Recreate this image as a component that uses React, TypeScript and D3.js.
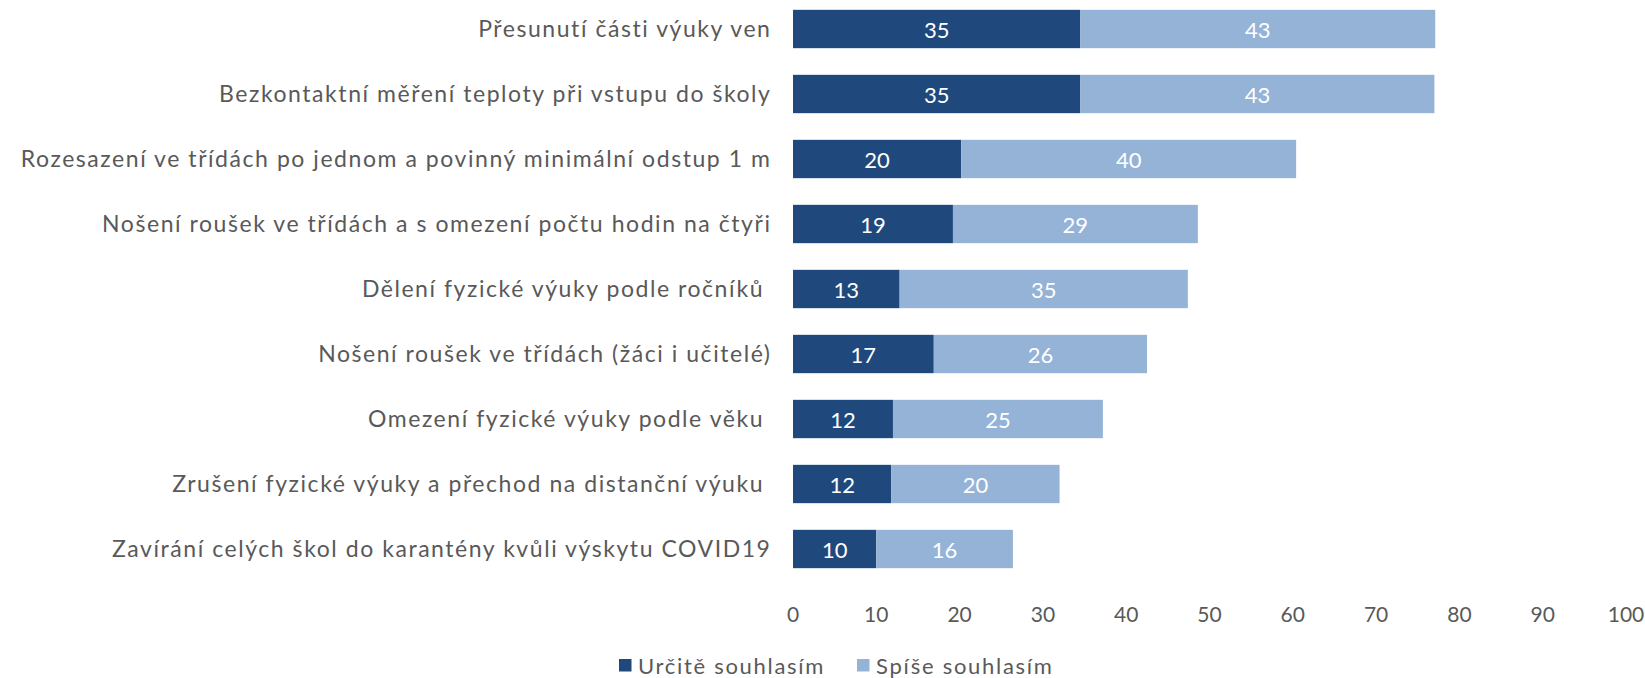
import * as d3 from "d3";

const categories = [
  "Přesunutí části výuky ven",
  "Bezkontaktní měření teploty při vstupu do školy",
  "Rozesazení ve třídách po jednom a povinný minimální odstup 1 m",
  "Nošení roušek ve třídách a s omezení počtu hodin na čtyři",
  "Dělení fyzické výuky podle ročníků ",
  "Nošení roušek ve třídách (žáci i učitelé)",
  "Omezení fyzické výuky podle věku ",
  "Zrušení fyzické výuky a přechod na distanční výuku ",
  "Zavírání celých škol do karantény kvůli výskytu COVID19",
];

const definitely = [34.5, 34.5, 20.2, 19.2, 12.8, 16.9, 12.0, 11.8, 10.0];
const rather = [42.6, 42.5, 40.2, 29.4, 34.6, 25.6, 25.2, 20.2, 16.4];

const xTicks = [0, 10, 20, 30, 40, 50, 60, 70, 80, 90, 100];
const seriesNames = ["Určitě souhlasím", "Spíše souhlasím"];

const W = 1645;
const H = 678;
const DARK = "#1f497d";
const LIGHT = "#95b3d7";
const GREY = "#595959";
const FONT = "Lato, 'Open Sans', sans-serif";

export default function App() {
  const x = d3.scaleLinear().domain([0, 100]).range([793, 1626]);
  const y = d3
    .scaleBand()
    .domain(categories)
    .range([-3.5, 581.5])
    .paddingInner(0.41)
    .paddingOuter(0.205);

  const rows = categories.map((c, i) => ({
    c,
    a: definitely[i],
    b: rather[i],
  }));

  const legendX = [619, 857];

  return (
    <svg
      width={W}
      height={H}
      style={{ position: "absolute", left: 0, top: 0, fontFamily: FONT }}
    >
      {rows.map((r) => {
        const y0 = y(r.c)!;
        const cy = y0 + y.bandwidth() / 2;
        return (
          <g key={r.c}>
            <text
              x={x(0) - 21.5}
              y={cy + 8}
              textAnchor="end"
              fontSize={23}
              letterSpacing={1.55}
              fill={GREY}
              style={{ whiteSpace: "pre" }}
            >
              {r.c}
            </text>
            <rect
              x={x(0)}
              y={y0}
              width={x(r.a) - x(0)}
              height={y.bandwidth()}
              fill={DARK}
            />
            <rect
              x={x(r.a)}
              y={y0}
              width={x(r.a + r.b) - x(r.a)}
              height={y.bandwidth()}
              fill={LIGHT}
            />
            <text
              x={(x(0) + x(r.a)) / 2}
              y={cy + 8.5}
              textAnchor="middle"
              fontSize={22}
              fill="#fff"
            >
              {Math.round(r.a)}
            </text>
            <text
              x={(x(r.a) + x(r.a + r.b)) / 2}
              y={cy + 8.5}
              textAnchor="middle"
              fontSize={22}
              fill="#fff"
            >
              {Math.round(r.b)}
            </text>
          </g>
        );
      })}

      {xTicks.map((t) => (
        <text
          key={t}
          x={x(t)}
          y={622}
          textAnchor="middle"
          fontSize={21}
          fill={GREY}
        >
          {t}
        </text>
      ))}

      {seriesNames.map((s, i) => (
        <g key={s}>
          <rect
            x={legendX[i]}
            y={659}
            width={12.5}
            height={12.5}
            fill={i === 0 ? DARK : LIGHT}
          />
          <text
            x={legendX[i] + 19}
            y={673.5}
            fontSize={22}
            letterSpacing={1.7}
            fill={GREY}
          >
            {s}
          </text>
        </g>
      ))}
    </svg>
  );
}
